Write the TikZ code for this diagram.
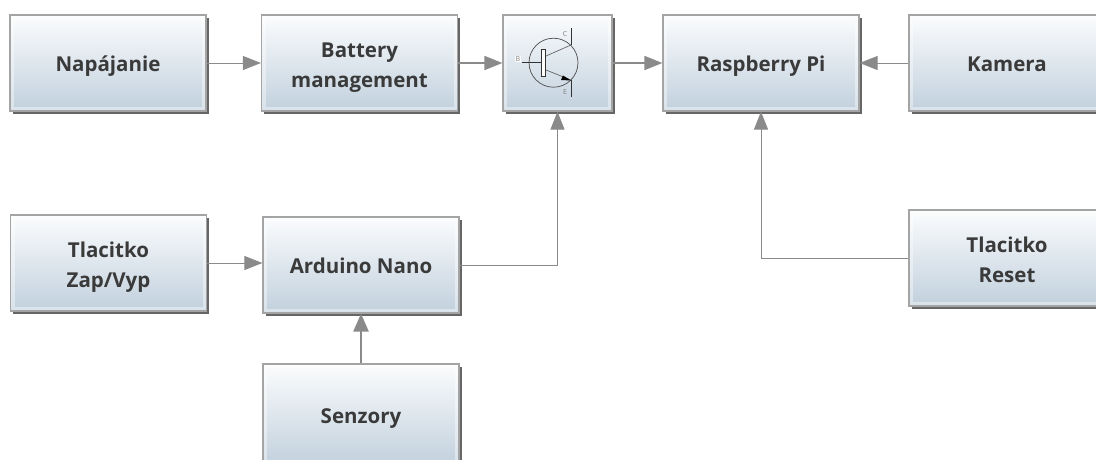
\documentclass[tikz,border=0pt]{standalone}
\usepackage{fontspec}
\setmainfont{Open Sans}
\usetikzlibrary{arrows.meta,shadows,calc}
\definecolor{edgegray}{HTML}{8A8A8A}
\definecolor{boxtop}{HTML}{FBFCFD}
\definecolor{boxbot}{HTML}{C1D0DD}
\definecolor{boxline}{HTML}{A4A4A4}
\definecolor{txt}{HTML}{3A3A3A}
\newcommand{\firstpad}{\rule{0pt}{24pt}}
\tikzset{
  blockbox/.style={rectangle,draw=boxline,line width=1.2pt,top color=boxtop,bottom color=boxbot,
    minimum width=196pt,minimum height=96pt,inner sep=0pt,align=center,text=txt,
    font=\fontsize{20.5}{30}\selectfont\bfseries,
    execute at begin node={\rule{0pt}{22pt}},
    execute at end node={\rule[-5pt]{0pt}{5pt}},
    drop shadow={shadow xshift=2.5pt,shadow yshift=-3pt,fill=black,opacity=.6},
    path picture={\draw[white,opacity=.4,line width=8pt]
      (path picture bounding box.south west) rectangle (path picture bounding box.north east);}},
  thinlink/.style={draw=edgegray,line width=1pt,-{Triangle[length=18pt,width=14pt]}},
  midlink/.style={draw=edgegray,line width=1.6pt,-{Triangle[length=18pt,width=14pt]}},
  thicklink/.style={draw=edgegray,line width=2.6pt,-{Triangle[length=18pt,width=15pt]}},
  symline/.style={draw=black!80,line width=.9pt},
  symlabel/.style={text=gray,font=\fontsize{7}{7}\selectfont,inner sep=0.5pt}
}
\begin{document}
\begin{tikzpicture}[x=1pt,y=-1pt]
\useasboundingbox (0,0) rectangle (1096,459);
\clip (0,0) rectangle (1096,459);
\fill[white] (0,0) rectangle (1096,459);
\node[blockbox] (nap) at (108,63) {Napájanie};
\node[blockbox] (bat) at (359.5,63) {\firstpad Battery\\management};
\node[blockbox,minimum width=109pt] (tr) at (557.5,63) {};
\node[blockbox] (rpi) at (761,63) {Raspberry Pi};
\node[blockbox] (kam) at (1007,63) {Kamera};
\node[blockbox] (zap) at (108.5,263) {\firstpad Tlacitko\\Zap/Vyp};
\node[blockbox] (ard) at (361,265) {Arduino Nano};
\node[blockbox,minimum height=102pt] (sen) at (361,415) {Senzory};
\node[blockbox] (res) at (1007,258) {\firstpad Tlacitko\\Reset};
% transistor symbol
\draw[draw=black!70,line width=.7pt] (553.5,62.7) circle (24.5);
\draw[symline] (522,62.5) -- (541,62.5);
\draw[draw=black!80,line width=.8pt,fill=white] (541,49) rectangle (545.5,76);
\draw[draw=black!60,line width=.7pt] (546,56) -- (571,45);
\draw[symline] (571,28) -- (571,45);
\draw[draw=black!60,line width=.7pt] (546,70) -- (571,80);
\fill[black] (571,80.5) -- (563,75.5) -- (561,80) -- cycle;
\draw[symline] (571,80) -- (571,97);
\node[symlabel] (lc) at (565,33.5) {C};
\node[symlabel] (le) at (565,91.5) {E};
\node[symlabel,fill=white] (lb) at (518,59) {B};
% connectors
\draw[thinlink] (nap.east) -- (bat.west);
\draw[midlink] (bat.east) -- (tr.west);
\draw[midlink] (tr.east) -- (rpi.west);
\draw[thinlink] (kam.west) -- (rpi.east);
\draw[thinlink] (zap.east) -- (zap.east -| ard.west);
\draw[thinlink] (ard.east) -| (tr.south);
\draw[thicklink] (sen.north) -- (ard.south);
\draw[thinlink] (res.west) -| (rpi.south);
\end{tikzpicture}
\end{document}
